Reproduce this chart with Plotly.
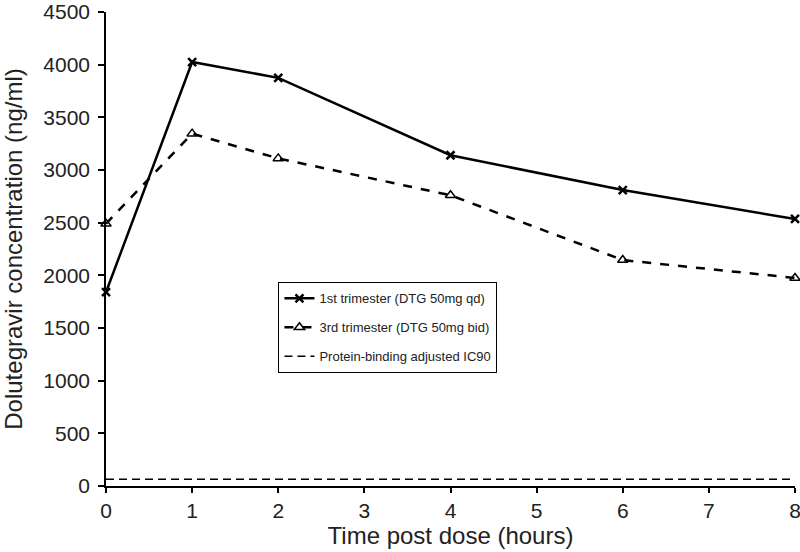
import plotly.graph_objects as go

time_h = [0, 1, 2, 4, 6, 8]
first_trimester = [1840, 4025, 3875, 3140, 2810, 2535]
third_trimester = [2490, 3345, 3110, 2760, 2145, 1975]
ic90_value = 64
ic90_x = [0, 8]

series_names = ["1st trimester (DTG 50mg qd)",
                "3rd trimester (DTG 50mg bid)",
                "Protein-binding adjusted IC90"]

fig = go.Figure()
fig.add_trace(go.Scatter(
    x=time_h, y=first_trimester, mode="lines+markers", name=series_names[0],
    legendgroup="a",
    line=dict(color="black", width=2.5),
    marker=dict(symbol="x-thin", size=8, color="black", line=dict(width=2.5, color="black")),
    cliponaxis=False))
fig.add_trace(go.Scatter(
    x=time_h, y=third_trimester, mode="lines+markers", name=series_names[1],
    legendgroup="b",
    line=dict(color="black", width=2.5, dash="dash"),
    marker=dict(symbol="triangle-up-open", size=9, color="black", line=dict(width=1.5, color="black")),
    cliponaxis=False))
fig.add_trace(go.Scatter(
    x=ic90_x, y=[ic90_value, ic90_value], mode="lines", name=series_names[2],
    legendgroup="c",
    line=dict(color="black", width=1.5, dash="8px,5px")))

fig.update_layout(
    width=800, height=552,
    margin=dict(l=106, r=5, t=12, b=66, autoexpand=False),
    paper_bgcolor="white", plot_bgcolor="white",
    font=dict(family="Liberation Sans, Arial, sans-serif", color="#222"),
    showlegend=True,
    legend=dict(x=0.25, y=0.43, xanchor="left", yanchor="top",
                bordercolor="black", borderwidth=1.2, bgcolor="white",
                font=dict(size=13, color="#222"), tracegroupgap=9,
                itemwidth=30),
    xaxis=dict(range=[0, 8], tickvals=[0, 1, 2, 3, 4, 5, 6, 7, 8], automargin=False,
               ticklabeloverflow="allow",
               showgrid=False, zeroline=False, showline=True, linecolor="black", linewidth=1.5,
               ticks="outside", ticklen=5, tickcolor="black", tickwidth=1.5, ticklabelstandoff=0,
               tickfont=dict(size=21), title=dict(text="Time post dose (hours)", font=dict(size=24), standoff=0)),
    yaxis=dict(range=[0, 4500], tickvals=list(range(0, 4501, 500)), automargin=False,
               ticklabeloverflow="allow",
               showgrid=False, zeroline=False, showline=True, linecolor="black", linewidth=1.5,
               ticks="outside", ticklen=6, tickcolor="black", tickwidth=1.5, ticklabelstandoff=4,
               tickfont=dict(size=21), title=dict(text="Dolutegravir concentration (ng/ml)", font=dict(size=24), standoff=14)),
)

fig.write_html("out.html", config={"displayModeBar": False},
               post_script="document.body.style.margin='0';")
